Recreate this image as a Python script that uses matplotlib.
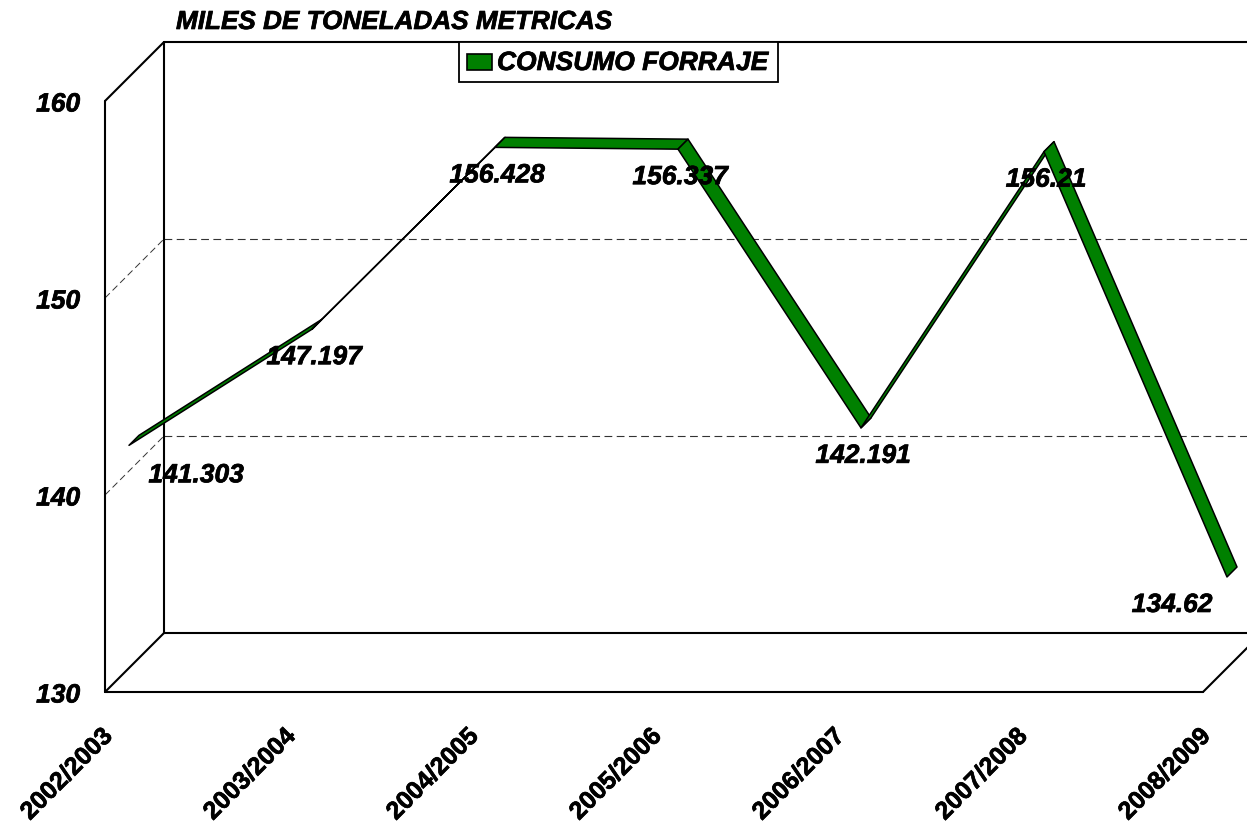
import matplotlib
matplotlib.use("Agg")
import matplotlib.pyplot as plt
import matplotlib.patheffects as pe
from matplotlib.patches import Polygon, Rectangle
from matplotlib.transforms import ScaledTranslation

plt.rcParams['font.family'] = ['Liberation Sans', 'DejaVu Sans']

campanas = ["2002/2003", "2003/2004", "2004/2005", "2005/2006", "2006/2007", "2007/2008", "2008/2009"]
consumo = [141.303, 147.197, 156.428, 156.337, 142.191, 156.21, 134.62]
etiquetas = ["141.303", "147.197", "156.428", "156.337", "142.191", "156.21", "134.62"]
y_ticks = [130, 140, 150, 160]

W, H = 1247, 825
LEFT, BOTTOM, RIGHT, TOP = 105, 692, 1203, 101  # front plane, pixels
BACK = 59   # depth of the box
R1, R2 = 24, 34   # depth of the ribbon

PX_X = (RIGHT - LEFT) / (len(campanas) - 1)
PX_Y = (BOTTOM - TOP) / (y_ticks[-1] - y_ticks[0])

HEAVY = [pe.withStroke(linewidth=0.5, foreground="black")]


def deep(x, y, d):
    # oblique projection, d in pixels
    return x + d / PX_X, y + d / PX_Y


def main():
    fig = plt.figure(figsize=(W / 100, H / 100), dpi=100)
    ax = fig.add_axes([LEFT / W, 1 - BOTTOM / H, (RIGHT - LEFT) / W, (BOTTOM - TOP) / H])
    ax.set_xlim(0, len(campanas) - 1)
    ax.set_ylim(y_ticks[0], y_ticks[-1])
    for s in ax.spines.values():
        s.set_visible(False)
    ax.patch.set_visible(False)

    ax.set_xticks(range(len(campanas)))
    ax.set_xticklabels(campanas, rotation=45, ha="right", rotation_mode="anchor",
                       fontsize=18, fontweight="bold", path_effects=HEAVY)
    ax.set_yticks(y_ticks)
    ax.set_yticklabels(y_ticks, fontsize=19, fontweight="bold", fontstyle="italic", path_effects=HEAVY)
    ax.tick_params(axis="x", length=0, pad=23)
    ax.tick_params(axis="y", length=0, pad=18)
    shift = ScaledTranslation(-5 / 100, 0, fig.dpi_scale_trans)
    for lab in ax.get_xticklabels():
        lab.set_transform(lab.get_transform() + shift)
    down = ScaledTranslation(0, -1 / 100, fig.dpi_scale_trans)
    for lab in ax.get_yticklabels():
        lab.set_transform(lab.get_transform() + down)

    x_end = len(campanas) - 1
    ymin, ymax = y_ticks[0], y_ticks[-1]

    # dashed gridlines, back wall and side wall
    for v in y_ticks[1:-1]:
        bx, by = deep(0, v, BACK)
        ex, ey = deep(x_end, v, BACK)
        ax.plot([bx, ex], [by, ey], color="#333333", lw=0.8, ls=(0, (7, 4)), clip_on=False, zorder=1)
        ax.plot([0, bx], [v, by], color="#333333", lw=0.7, ls=(0, (7, 4)), clip_on=False, zorder=1)

    # box
    back_x0, back_top = deep(0, ymax, BACK)
    back_x1, back_bot = deep(x_end, ymin, BACK)
    frame = [
        ([0, 0], [ymin, ymax]),
        ([0, back_x0], [ymax, back_top]),
        ([0, back_x0], [ymin, back_bot]),
        ([back_x0, back_x0], [back_bot, back_top]),
        ([back_x0, back_x1], [back_top, back_top]),
        ([back_x0, back_x1], [back_bot, back_bot]),
        ([0, x_end], [ymin, ymin]),
        ([x_end, back_x1], [ymin, back_bot]),
    ]
    for xs, ys in frame:
        ax.plot(xs, ys, color="black", lw=1.5, clip_on=False, zorder=2, solid_capstyle="round")

    # ribbon
    for i in range(len(consumo) - 1):
        a, b = consumo[i], consumo[i + 1]
        quad = [deep(i, a, R1), deep(i + 1, b, R1), deep(i + 1, b, R2), deep(i, a, R2)]
        ax.add_patch(Polygon(quad, closed=True, facecolor="#008000", edgecolor="black",
                             lw=1.1, joinstyle="round", clip_on=False, zorder=3))

    # value labels, first and last sit beside the ribbon
    for i, (v, t) in enumerate(zip(consumo, etiquetas)):
        dx = 2
        dy = 28
        if i == 0:
            dx = 67
            dy = 30
        if i == len(consumo) - 1:
            dx = -55
        px, py = deep(i, v, R1)
        ax.annotate(t, (px, py), xytext=(dx * 0.72, -dy * 0.72), textcoords="offset points",
                    ha="center", va="center", fontsize=19, fontweight="bold",
                    fontstyle="italic", zorder=5, annotation_clip=False, path_effects=HEAVY)

    fig.text(176 / W, 1 - 22 / H, "MILES DE TONELADAS METRICAS", fontsize=18.8,
             fontweight="bold", fontstyle="italic", va="center", ha="left", path_effects=HEAVY)

    # legend box
    fig.add_artist(Rectangle((459 / W, 1 - 82 / H), 319 / W, 40 / H, transform=fig.transFigure,
                             facecolor="white", edgecolor="black", lw=1.3, zorder=6))
    fig.add_artist(Rectangle((467 / W, 1 - 70 / H), 25 / W, 16 / H, transform=fig.transFigure,
                             facecolor="#008000", edgecolor="black", lw=1.2, zorder=7))
    fig.text(497 / W, 1 - 63 / H, "CONSUMO FORRAJE", fontsize=19, fontweight="bold",
             fontstyle="italic", va="center", ha="left", zorder=7, path_effects=HEAVY)

    fig.savefig("out.png", dpi=100)


if __name__ == "__main__":
    main()
